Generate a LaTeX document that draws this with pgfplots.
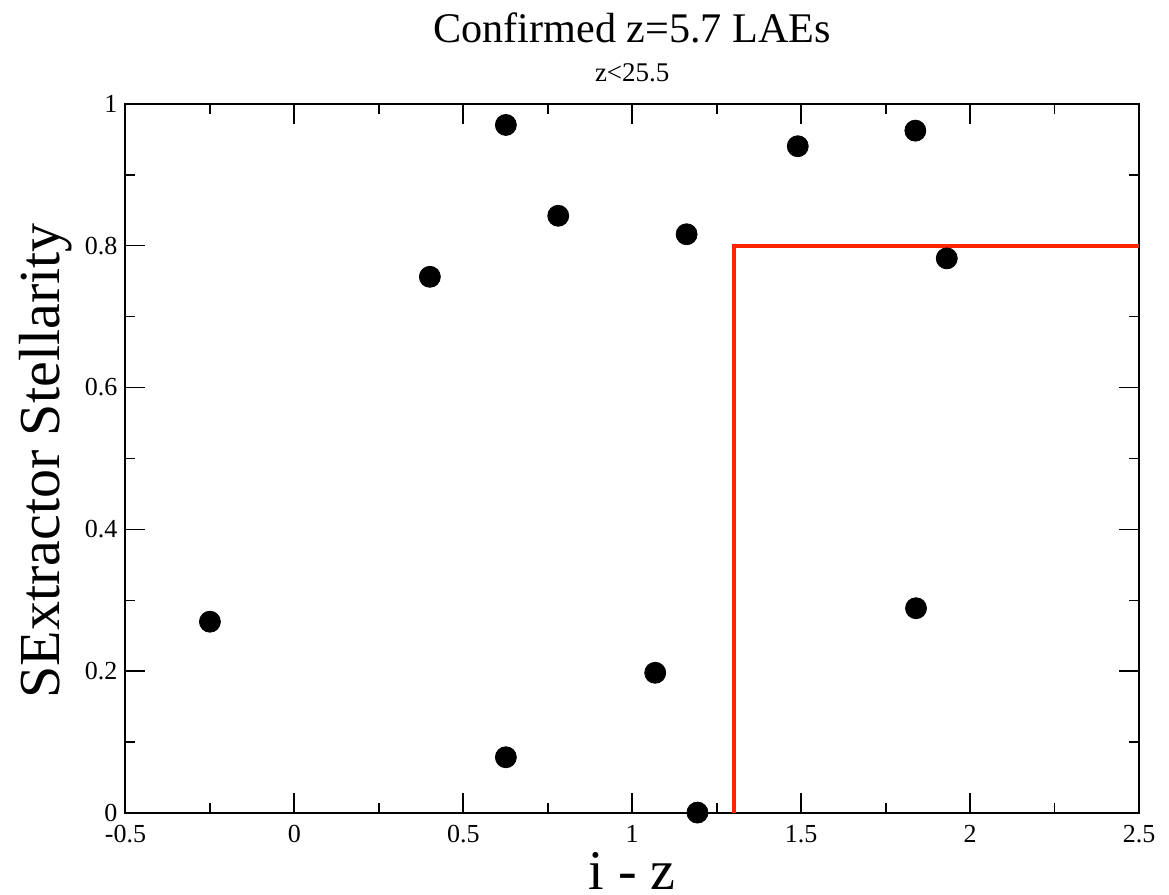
\documentclass[border=0pt]{standalone}
\usepackage{pgfplots}
\pgfplotsset{compat=1.18}
\usepackage{fontspec}
\setmainfont{Liberation Serif}
\definecolor{cutred}{RGB}{255,36,0}

\begin{document}
\begin{tikzpicture}
\begin{axis}[
    scale only axis,
    width=506.75pt, height=354.8pt,
    xmin=-0.5, xmax=2.5,
    ymin=0, ymax=1,
    clip=false,
    axis line style={line width=1pt},
    tick style={line width=0.9pt, black},
    tick align=inside,
    tick pos=both,
    major tick length=10pt,
    minor tick length=5pt,
    xtick={-0.5,0,0.5,1,1.5,2,2.5},
    xticklabels={-0.5,0,0.5,1,1.5,2,2.5},
    ytick={0,0.2,0.4,0.6,0.8,1},
    yticklabels={0,0.2,0.4,0.6,0.8,1},
    minor x tick num=1,
    minor y tick num=1,
    ticklabel style={font=\fontsize{13}{15}\selectfont},
    xticklabel style={anchor=base, yshift=-14.7pt},
    yticklabel style={anchor=east, xshift=-0.5pt},
]
% selection box
\addplot[cutred, line width=2pt] coordinates {
    (1.3,0) (1.3,0.8) (2.5,0.8)
};
% confirmed LAEs
\addplot[only marks, mark=*, mark size=5.25pt, black] coordinates {
    (-0.25,0.270)
    (0.401,0.756)
    (0.626,0.970)
    (0.626,0.079)
    (0.781,0.842)
    (1.068,0.198)
    (1.161,0.816)
    (1.193,0.001)
    (1.490,0.940)
    (1.838,0.962)
    (1.931,0.782)
    (1.840,0.289)
};
\node[anchor=base, inner sep=0pt, font=\fontsize{21.1}{25}\selectfont] at (rel axis cs:0.5,1.0855) {Confirmed z=5.7 LAEs};
\node[anchor=base, inner sep=0pt, font=\fontsize{13.5}{15}\selectfont] at (rel axis cs:0.5,1.0306) {z<25.5};
\node[anchor=base, inner sep=0pt, rotate=90, font=\fontsize{29}{34}\selectfont] at (rel axis cs:-0.0646,0.4965) {SExtractor Stellarity};
\node[anchor=base, inner sep=0pt, font=\fontsize{28}{32}\selectfont] at (rel axis cs:0.5,-0.108) {i - z};
\path (rel axis cs:-0.1238,-0.1151) rectangle (rel axis cs:1.0296,1.1461);
\end{axis}
\end{tikzpicture}
\end{document}
